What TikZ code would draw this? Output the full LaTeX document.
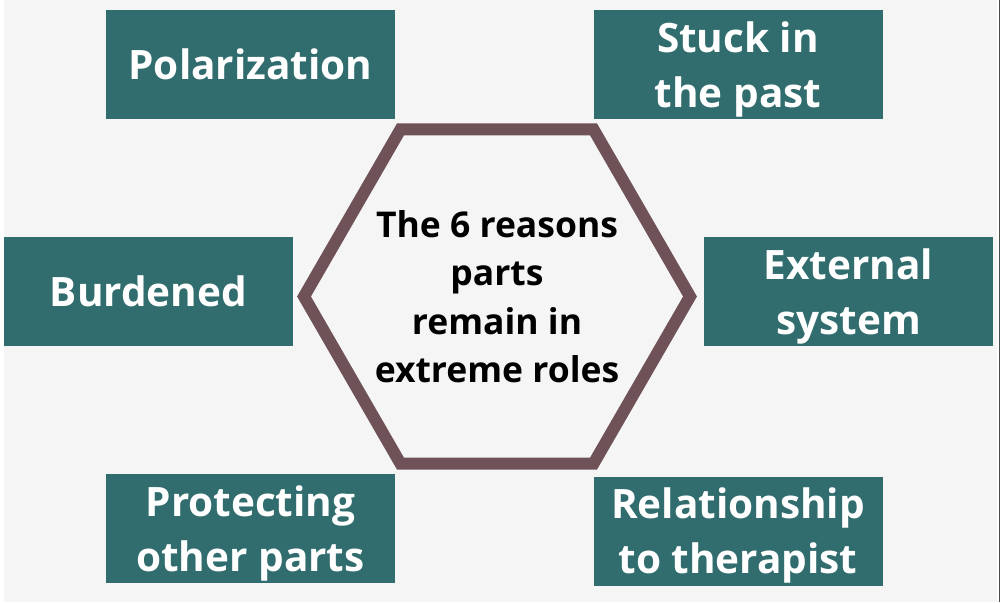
\documentclass[tikz,border=0pt]{standalone}
\usepackage{fontspec}
\setmainfont{Open Sans}
\usetikzlibrary{shapes.geometric}
\definecolor{boxteal}{RGB}{49,109,110}
\definecolor{hexrim}{RGB}{111,81,88}
\definecolor{paper}{RGB}{245,245,245}
\begin{document}
\begin{tikzpicture}[x=1pt, y=-1pt,
        reason/.style = {fill = boxteal, text = white, align = center,
                         minimum width = 289pt, minimum height = 109pt, inner sep = 0pt,
                         font = \fontsize{40.5}{55}\selectfont\bfseries},
        twoline/.style = {text depth = 0pt},
        core/.style = {align = center, text = black,
                       font = \fontsize{35.5}{48.5}\selectfont\bfseries}]
                \useasboundingbox (0, 0) rectangle (1000, 602);
                \fill[white] (0, 0) rectangle (1000, 602);
                \fill[paper] (4, 0) rectangle (997, 602);
                \fill[black!70] (998.5, 0) rectangle (1000, 602);

                \node (hex) at (497, 296.5) [regular polygon, regular polygon sides = 6,
                    minimum size = 386pt, inner sep = 0pt, draw = hexrim, line width = 12pt] {};
                \node (centre) at (hex.center) [core] {The 6 reasons\\parts\\remain in\\extreme roles};

                \node (polar) at (250.5, 64.5) [reason] {Polarization};
                \node (stuck) at (738, 64.5) [reason, twoline] {Stuck in\\the past};
                \node (burden) at (148.5, 291.5) [reason] {Burdened};
                \node (extern) at (848.5, 291.5) [reason, twoline] {External\\system};
                \node (protect) at (250.5, 528.5) [reason, twoline] {Protecting\\other parts};
                \node (therap) at (738, 531) [reason, twoline] {Relationship\\to therapist};
            \end{tikzpicture}
\end{document}
